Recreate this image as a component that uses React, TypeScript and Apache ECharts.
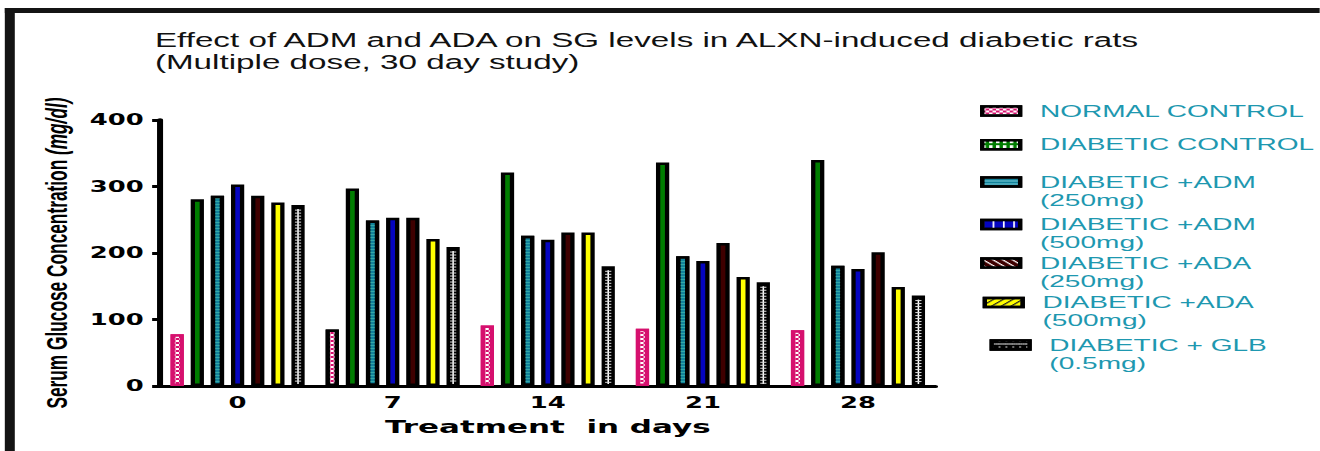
import React, { useEffect, useRef } from 'react';
import * as echarts from 'echarts';

// Treatment days (x categories)
const days = ['0', '7', '14', '21', '28'];

// Serum glucose (mg/dl) per group
const normalControl = [78, 85, 91, 86, 84];
const diabeticControl = [281, 297, 321, 336, 340];
const adm250 = [286, 249, 226, 195, 181];
const adm500 = [303, 253, 220, 188, 176];
const ada250 = [286, 253, 231, 215, 201];
const ada500 = [276, 221, 231, 164, 149];
const glb = [272, 209, 180, 156, 136];

const yTicks = { min: 0, max: 400, interval: 100 };

const NAMES = {
  nc: 'NORMAL CONTROL',
  dc: 'DIABETIC CONTROL',
  adm250: 'DIABETIC +ADM\n(250mg)',
  adm500: 'DIABETIC +ADM\n(500mg)',
  ada250: 'DIABETIC +ADA\n(250mg)',
  ada500: 'DIABETIC +ADA\n(500mg)',
  glb: 'DIABETIC + GLB\n(0.5mg)',
};

// The figure is laid out on a narrow canvas and stretched horizontally.
const PAGE_W = 1320;
const BASE_W = 767;
const H = 451;
const STRETCH = PAGE_W / BASE_W;

const BAR_W = 7.7;
const BAR_GAP = 0.52;
const BORDER = 2.5;

const FRAME = '#141414';
const LEGEND_TEXT = '#1e98b0';
const SANS = "'Liberation Sans', Arial, sans-serif";
const BOLD_AXIS = "'DejaVu Sans', sans-serif";
const NARROW = "'Liberation Sans Narrow', 'Liberation Sans', Arial, sans-serif";

export default function App() {
  const ref = useRef<HTMLDivElement>(null);

  useEffect(() => {
    const chart = echarts.init(ref.current!, null, { renderer: 'svg' });

    const bar = (name: string, data: any[], color: string, extra: any = {}) => ({
      type: 'bar',
      name,
      data,
      barWidth: BAR_W,
      barGap: `${BAR_GAP * 100}%`,
      itemStyle: { color, borderColor: '#000', borderWidth: BORDER, ...extra },
    });

    // One legend block per series; two-line names get an empty leading line so
    // the icon sits level with the first visible line.
    const legendItem = (name: string, left: number, top: number, twoLine: boolean, itemStyle: any = {}) => ({
      data: [name],
      orient: 'vertical',
      left,
      top,
      padding: 0,
      icon: 'rect',
      itemWidth: 22,
      itemHeight: 9,
      selectedMode: false,
      formatter: (n: string) => (twoLine ? '\n' + n : n),
      itemStyle: { borderColor: '#000', borderWidth: 2.5, ...itemStyle },
      textStyle: {
        color: LEGEND_TEXT,
        fontFamily: SANS,
        fontSize: 16.3,
        lineHeight: 18,
        padding: [0, 0, 0, 6.5],
      },
    });

    // centre offset of the 7th bar in each group
    const glbOffset = 3 * BAR_W * (1 + BAR_GAP);

    const option: any = {
      animation: false,
      backgroundColor: '#fff',
      title: {
        text: 'Effect of ADM and ADA on SG levels in ALXN-induced diabetic rats\n(Multiple dose, 30 day study)',
        left: 90,
        top: 29,
        padding: 0,
        textStyle: {
          fontFamily: SANS,
          fontWeight: 'normal',
          fontSize: 19.3,
          lineHeight: 22,
          color: '#111',
        },
      },
      graphic: [
        {
          // left frame edge
          type: 'rect',
          x: 2.8,
          y: 8,
          shape: { x: 0, y: 0, width: 5.8, height: H - 8 },
          style: { fill: FRAME },
        },
        {
          // top frame edge
          type: 'rect',
          x: 2.8,
          y: 8,
          shape: { x: 0, y: 0, width: BASE_W - 3, height: 5 },
          style: { fill: FRAME },
        },
      ],
      legend: [
        legendItem(NAMES.nc, 569.5, 102, false),
        legendItem(NAMES.dc, 569.5, 135.7, false, {
          decal: { symbol: 'rect', symbolSize: 1, color: '#fff', dashArrayX: [2, 1.5], dashArrayY: [2.5, 2] },
        }),
        legendItem(NAMES.adm250, 569.5, 155, true, {
          decal: { symbol: 'rect', symbolSize: 1, color: 'rgba(150,225,235,0.8)', dashArrayX: [1, 0], dashArrayY: [1, 2] },
        }),
        legendItem(NAMES.adm500, 569.5, 197.5, true, {
          decal: { symbol: 'rect', symbolSize: 1, color: '#fff', dashArrayX: [0.7, 4.5], dashArrayY: [1, 0] },
        }),
        legendItem(NAMES.ada250, 569.5, 236, true, {
          decal: { symbol: 'rect', symbolSize: 1, color: '#fff', dashArrayX: [1, 0], dashArrayY: [1, 2.5], rotation: Math.PI / 4 },
        }),
        legendItem(NAMES.ada500, 571, 275.5, true, {
          decal: { symbol: 'rect', symbolSize: 1, color: '#222', dashArrayX: [1, 0], dashArrayY: [1, 2.5], rotation: -Math.PI / 4 },
        }),
        legendItem(NAMES.glb, 575, 318, true, {
          decal: { symbol: 'rect', symbolSize: 1, color: '#fff', dashArrayX: [[1, 0], [0.6, 3]], dashArrayY: [1, 1.5] },
        }),
      ],
      grid: { left: 93, right: BASE_W - 543.6, top: 120, bottom: 65 },
      xAxis: {
        type: 'category',
        data: days,
        name: 'Treatment  in days',
        nameLocation: 'middle',
        nameGap: 32,
        nameTextStyle: { fontFamily: BOLD_AXIS, fontWeight: 'bold', fontSize: 18, color: '#000' },
        axisLine: { lineStyle: { color: '#000', width: 3 } },
        axisTick: { alignWithLabel: true, length: 4, lineStyle: { color: '#000', width: 3.5 } },
        axisLabel: { fontFamily: BOLD_AXIS, fontWeight: 'bold', fontSize: 15, color: '#000', margin: 9 },
      },
      yAxis: {
        type: 'value',
        ...yTicks,
        name: '{a|Serum Glucose Concentration }{b|(mg/dl)}',
        nameLocation: 'middle',
        nameRotate: 90,
        nameGap: 49,
        nameTextStyle: {
          rich: {
            a: { fontFamily: NARROW, fontWeight: 'bold', fontSize: 17.3, color: '#000' },
            b: { fontFamily: NARROW, fontWeight: 'bold', fontStyle: 'italic', fontSize: 17.3, color: '#000' },
          },
        },
        splitLine: { show: false },
        axisLine: { show: true, lineStyle: { color: '#000', width: 3.5 } },
        axisTick: { show: true, length: 4.6, lineStyle: { color: '#000', width: 3 } },
        axisLabel: { fontFamily: BOLD_AXIS, fontWeight: 'bold', fontSize: 15, color: '#000', margin: 9.5 },
      },
      series: [
        bar(
          NAMES.nc,
          normalControl.map((v, i) => (i === 1 ? { value: v, itemStyle: { borderColor: '#000' } } : v)),
          '#d6106e',
          {
            borderColor: '#d6106e',
            decal: {
              symbol: 'rect',
              symbolSize: 1,
              color: '#fff',
              dashArrayX: [[1.2, 1.2], [0, 1.2, 1.2, 0]],
              dashArrayY: [2, 0],
            },
          }
        ),
        bar(NAMES.dc, diabeticControl, '#007d00'),
        bar(NAMES.adm250, adm250, '#12829a', {
          decal: { symbol: 'rect', symbolSize: 1, color: 'rgba(80,200,180,0.55)', dashArrayX: [1, 0], dashArrayY: [1, 2] },
        }),
        bar(NAMES.adm500, adm500, '#0505c0'),
        bar(NAMES.ada250, ada250, '#3f0000'),
        bar(NAMES.ada500, ada500, '#ffff00'),
        bar(NAMES.glb, glb, '#000'),
        {
          // white spine with cross ticks inside the GLB bars
          type: 'custom',
          name: 'glb-hatch',
          silent: true,
          z: 5,
          clip: false,
          data: glb.map((v, i) => [i, v]),
          encode: { x: 0, y: 1 },
          renderItem: (params: any, api: any) => {
            const cat = api.value(0);
            const top = api.coord([cat, api.value(1)]);
            const base = api.coord([cat, 0]);
            const cx = top[0] + glbOffset;
            const y0 = top[1] + 4;
            const y1 = base[1] - 2;
            const children: any[] = [
              {
                type: 'line',
                shape: { x1: cx, y1: y0, x2: cx, y2: y1 },
                style: { stroke: '#fff', lineWidth: 0.9 },
              },
            ];
            for (let y = y0 + 1; y < y1; y += 3) {
              children.push({
                type: 'line',
                shape: { x1: cx - 1.8, y1: y, x2: cx + 1.8, y2: y },
                style: { stroke: '#ddd', lineWidth: 1 },
              });
            }
            return { type: 'group', children };
          },
        },
      ],
    };

    chart.setOption(option);
    return () => chart.dispose();
  }, []);

  return (
    <div
      style={{
        position: 'absolute',
        left: 0,
        top: 0,
        width: PAGE_W,
        height: H,
        overflow: 'hidden',
        background: '#fff',
      }}
    >
      <div
        ref={ref}
        style={{
          width: BASE_W,
          height: H,
          transform: `scaleX(${STRETCH})`,
          transformOrigin: '0 0',
        }}
      />
    </div>
  );
}
